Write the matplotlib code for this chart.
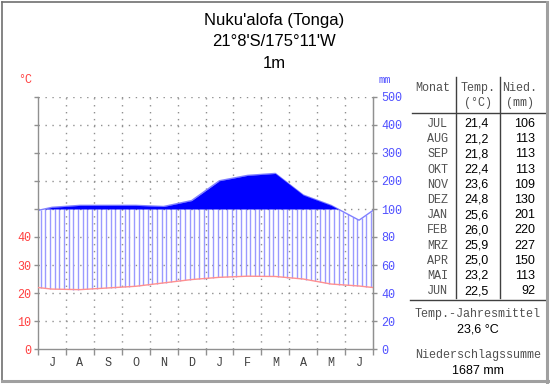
import numpy as np
import matplotlib
matplotlib.use("Agg")
import matplotlib.pyplot as plt
from matplotlib.lines import Line2D

# ---- data (July -> June) ----
month_letters = ["J", "A", "S", "O", "N", "D", "J", "F", "M", "A", "M", "J"]
month_names = ["JUL", "AUG", "SEP", "OKT", "NOV", "DEZ", "JAN", "FEB", "MRZ", "APR", "MAI", "JUN"]
temp = [21.4, 21.2, 21.8, 22.4, 23.6, 24.8, 25.6, 26.0, 25.9, 25.0, 23.2, 22.5]
precip = [106, 113, 113, 113, 109, 130, 201, 220, 227, 150, 113, 92]
temp_labels = ["21,4", "21,2", "21,8", "22,4", "23,6", "24,8", "25,6", "26,0", "25,9", "25,0", "23,2", "22,5"]
precip_labels = ["106", "113", "113", "113", "109", "130", "201", "220", "227", "150", "113", "92"]
title_lines = ["Nuku'alofa (Tonga)", "21°8'S/175°11'W", "1m"]
mean_temp = "23,6 °C"
total_precip = "1687 mm"
left_tick_labels = ["0", "10", "20", "30", "40"]
right_tick_labels = ["0", "20", "40", "60", "80", "100", "200", "300", "400", "500"]

W, H = 550, 384
fig = plt.figure(figsize=(W / 100, H / 100), dpi=100)
fig.patch.set_facecolor("white")

def fx(px):
    return px / W

def fy(py):
    return 1 - py / H

MONO = "Liberation Mono"
SANS = "Liberation Sans"

def pscale(p):
    p = np.asarray(p, dtype=float)
    return np.where(p <= 100, p / 2.0, 50 + (p - 100) / 10.0)

# axes
ax = fig.add_axes([fx(38), fy(349), fx(373) - fx(38), fy(97) - fy(349)])
ax.set_xlim(0, 12)
ax.set_ylim(0, 90)
ax.set_facecolor("white")

# extended curves with wrap-around edge values
t_edge = (temp[0] + temp[-1]) / 2
p_edge = (precip[0] + precip[-1]) / 2
xs = np.concatenate([[0], np.arange(12) + 0.5, [12]])
ts = np.concatenate([[t_edge], temp, [t_edge]])
ps = pscale(np.concatenate([[p_edge], precip, [p_edge]]))

xd = np.linspace(0, 12, 2401)
td = np.interp(xd, xs, ts)
pd_ = np.interp(xd, xs, ps)

# grid
for yv in range(10, 91, 10):
    ax.plot([0, 12], [yv, yv], color="#909090", lw=1.0, ls=(0, (1, 4)), zorder=1)
for xv in range(1, 12):
    ax.plot([xv, xv], [0, 90], color="#909090", lw=1.0, ls=(0, (1, 4)), zorder=1)

# humid hatching (vertical lines)
hx = np.arange(0.1, 12, 1 / 6)
ht = np.interp(hx, xs, ts)
hp = np.minimum(np.interp(hx, xs, ps), 50)
ax.vlines(hx, ht, hp, color="#9a9aff", lw=1.0, zorder=2)

# lines
ax.plot(xs, ps, color="#8080ff", lw=1.0, zorder=2.5)
ax.plot(xs, ts, color="#ff9090", lw=1.0, zorder=4)

# perhumid fill
ax.fill_between(xd, 50, pd_, where=pd_ >= 50, color="#0000ff", lw=0, zorder=3)

# spines
ax.spines["top"].set_visible(False)
for s in ["left", "right", "bottom"]:
    ax.spines[s].set_color("#909090")
    ax.spines[s].set_linewidth(1.0)

ax.set_yticks(range(0, 91, 10))
ax.set_yticklabels(left_tick_labels + [""] * 5)
ax.tick_params(axis="y", direction="out", length=3, width=1, color="#909090",
               labelcolor="#ff4040", labelsize=8.5, pad=2)
for lab in ax.get_yticklabels():
    lab.set_fontfamily(MONO)

ax.set_xticks(range(0, 13))
ax.set_xticklabels([""] * 13)
ax.set_xticks(np.arange(12) + 0.5, minor=True)
ax.set_xticklabels(month_letters, minor=True)
ax.tick_params(axis="x", which="major", direction="out", length=4, width=1, color="#909090")
ax.tick_params(axis="x", which="minor", length=0, labelsize=8.5, labelcolor="#404040", pad=6)
for lab in ax.get_xticklabels(minor=True):
    lab.set_fontfamily(MONO)

ax2 = ax.twinx()
ax2.set_ylim(0, 90)
ax2.set_yticks(range(0, 91, 10))
ax2.set_yticklabels(right_tick_labels)
ax2.tick_params(axis="y", direction="out", length=3, width=1, color="#909090",
                labelcolor="#5050ff", labelsize=8.5, pad=3)
for lab in ax2.get_yticklabels():
    lab.set_fontfamily(MONO)
for s in ["top", "left", "bottom"]:
    ax2.spines[s].set_visible(False)
ax2.spines["right"].set_color("#909090")

# unit labels
fig.text(fx(25), fy(80), "°C", color="#ff4040", fontsize=8.5, family=MONO, ha="center", va="center")
fig.text(fx(385), fy(80), "mm", color="#5050ff", fontsize=7.5, family=MONO, ha="center", va="center")

# title
for t, yy in zip(title_lines, [20, 42, 63]):
    fig.text(fx(274), fy(yy), t, fontsize=12, family=SANS, ha="center", va="center", color="black")

# table
grey_txt = "#505050"
MS = 8.5
fig.text(fx(433), fy(88), "Monat", fontsize=MS, family=MONO, ha="center", va="center", color=grey_txt)
fig.text(fx(478), fy(88), "Temp.", fontsize=MS, family=MONO, ha="center", va="center", color=grey_txt)
fig.text(fx(478), fy(103), "(°C)", fontsize=MS, family=MONO, ha="center", va="center", color=grey_txt)
fig.text(fx(520), fy(88), "Nied.", fontsize=MS, family=MONO, ha="center", va="center", color=grey_txt)
fig.text(fx(520), fy(103), "(mm)", fontsize=MS, family=MONO, ha="center", va="center", color=grey_txt)

row0, dy = 124, 15.2
for i in range(12):
    yy = row0 + i * dy
    fig.text(fx(448), fy(yy), month_names[i], fontsize=MS, family=MONO, ha="right", va="center", color=grey_txt)
    fig.text(fx(489), fy(yy), temp_labels[i], fontsize=9, family=SANS, ha="right", va="center", color="black")
    fig.text(fx(535), fy(yy), precip_labels[i], fontsize=9, family=SANS, ha="right", va="center", color="black")

line_c = "#404040"
fig.add_artist(Line2D([fx(456), fx(456)], [fy(77), fy(298)], color=line_c, lw=1))
fig.add_artist(Line2D([fx(500), fx(500)], [fy(77), fy(298)], color=line_c, lw=1))
fig.add_artist(Line2D([fx(412), fx(545)], [fy(113), fy(113)], color=line_c, lw=1))
fig.add_artist(Line2D([fx(410), fx(545)], [fy(300), fy(300)], color=line_c, lw=1))

fig.text(fx(478), fy(314), "Temp.-Jahresmittel", fontsize=MS, family=MONO, ha="center", va="center", color=grey_txt)
fig.text(fx(478), fy(330), mean_temp, fontsize=9, family=SANS, ha="center", va="center", color="black")
fig.text(fx(478), fy(355), "Niederschlagssumme", fontsize=MS, family=MONO, ha="center", va="center", color=grey_txt)
fig.text(fx(478), fy(371), total_precip, fontsize=9, family=SANS, ha="center", va="center", color="black")

# outer frame
fig.add_artist(Line2D([fx(2), fx(548)], [fy(2), fy(2)], color="#707070", lw=1.2))
fig.add_artist(Line2D([fx(2), fx(2)], [fy(2), fy(382)], color="#707070", lw=1.2))
fig.add_artist(Line2D([fx(547), fx(547)], [fy(2), fy(382)], color="#a0a0a0", lw=2.2))
fig.add_artist(Line2D([fx(2), fx(548)], [fy(381), fy(381)], color="#a0a0a0", lw=2.2))

fig.savefig("out.png", dpi=100, facecolor="white")
